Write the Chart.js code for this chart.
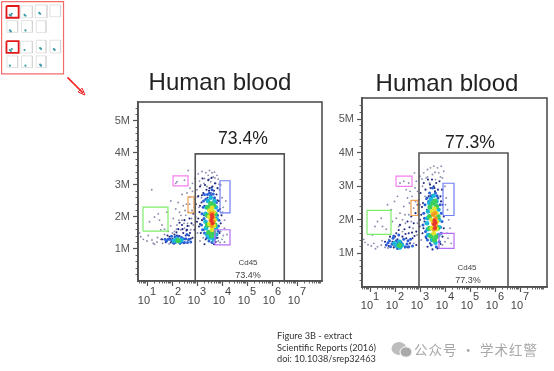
<!DOCTYPE html>
<html><head><meta charset="utf-8">
<script src="https://cdn.jsdelivr.net/npm/chart.js@4"></script>
<style>
html,body{margin:0;padding:0;background:#fff;width:554px;height:371px;overflow:hidden}
canvas{position:absolute;filter:blur(.55px)}
#c0{left:0;top:0;filter:blur(.7px)}
#c1{left:100px;top:60px}
#c2{left:335px;top:60px}
#cite{position:absolute;left:277px;top:330px;font:9.2px/11.6px Lato,sans-serif;color:#333;filter:blur(.3px);white-space:nowrap}
#mark{position:absolute;left:414px;top:340px;font:13.5px/18px "Noto Sans CJK SC",sans-serif;color:#a8a8a8;letter-spacing:1px;white-space:nowrap;filter:blur(.3px)}
#icon{position:absolute;left:391px;top:341px;filter:blur(.4px)}
</style></head><body>
<canvas id="c0" width="90" height="100"></canvas>
<canvas id="c1" width="240" height="260"></canvas>
<canvas id="c2" width="224" height="260"></canvas>
<div id="cite">Figure 3B - extract<br>Scientific Reports (2016)<br>doi: 10.1038/srep32463</div>
<svg id="icon" width="22" height="18"><ellipse cx="8" cy="7.5" rx="7.5" ry="6.5" fill="#bdbdbd"/><ellipse cx="15" cy="11" rx="6" ry="5.2" fill="#a9a9a9" stroke="#fff"/></svg>
<div id="mark">公众号 · 学术红警</div>
<script>
const titleText = "Human blood";
const decades = [1,2,3,4,5,6,7];
const decadeStarts = [0,1,2,3,4,5,6,7];
const minorOffsets = [0.3,0.48,0.6,0.7,0.78,0.85,0.9,0.95];
const yMajor = [1,2,3,4,5];
const yMinor = [0.2,0.4,0.6,0.8,1.2,1.4,1.6,1.8,2.2,2.4,2.6,2.8,3.2,3.4,3.6,3.8,4.2,4.4,4.6,4.8,5.2,5.4];

// ---- Panel 1 ----
const p1Range = {xMin:0.64,xMax:8.0,yMax:5.59};
const p1Gate = [[2.93,0],[2.93,3.97],[6.49,3.97],[6.49,0]];
const p1GreenBox = [[0.84,1.56],[0.84,2.31],[1.84,2.31],[1.84,1.56],[0.84,1.56]];
const p1MagentaBox = [[2.04,2.97],[2.04,3.28],[2.64,3.28],[2.64,2.97],[2.04,2.97]];
const p1OrangeBox = [[2.64,2.13],[2.64,2.63],[2.88,2.63],[2.88,2.13],[2.64,2.13]];
const p1BlueBox = [[3.92,2.13],[3.92,3.13],[4.32,3.13],[4.32,2.13],[3.92,2.13]];
const p1PurpleBox = [[3.72,1.13],[3.72,1.6],[4.32,1.6],[4.32,1.13],[3.72,1.13]];
const p1Labels = [["73.4%",4.84,4.44,17.6,"#222"],["Cd45",5.04,0.56,8,"#444"],["73.4%",5.04,0.16,9,"#444"]];
const p1Gray = [[1.19,2.85],[1.3,2.0],[1.5,1.9],[1.6,1.75],[1.45,2.1],[1.7,1.62],[1.1,1.85],[1.55,1.6],[2.2,3.1],[2.5,3.15],[2.15,3.05],[0.7,1.5],[0.75,1.38],[0.85,1.3],[1.0,1.25],[1.05,1.42],[1.2,1.28],[1.25,1.18],[1.4,1.22],[1.55,1.3],[1.7,1.45],[1.75,1.2],[1.85,1.55],[1.95,1.72],[2.05,1.95],[2.1,1.55],[2.2,1.75],[2.3,2.15],[2.35,1.6],[2.4,1.9],[2.45,2.35],[2.5,1.65],[2.55,2.05],[2.6,2.75],[2.62,1.8],[2.7,2.4],[2.72,2.9],[2.75,1.6],[2.8,2.2],[2.82,3.05],[2.85,1.75],[2.9,2.55],[2.92,3.2],[2.95,2.0],[3.0,2.85],[3.02,1.5],[3.05,3.35],[3.08,2.3],[3.12,1.25],[3.15,3.0],[3.18,2.6],[3.2,3.42],[3.25,1.35],[3.3,3.2],[3.35,3.38],[3.4,2.95],[3.45,3.3],[3.5,3.45],[3.55,3.1],[3.6,3.38],[3.65,3.25],[3.7,3.4],[3.75,3.05],[3.8,3.3],[3.85,3.18],[3.9,2.85],[3.95,3.0],[4.0,2.6],[4.05,2.3],[4.1,1.9],[4.15,2.5],[4.2,1.45],[4.0,1.3],[3.95,1.55],[4.1,1.22],[3.85,1.25],[2.25,2.45],[2.15,2.25],[1.95,2.5],[2.65,3.45],[2.4,2.7],[1.8,2.15],[2.58,2.4],[2.66,2.15],[2.48,1.8],[2.72,2.62],[2.82,2.8],[2.9,2.3],[2.78,1.95],[2.52,2.2],[2.36,2.05],[2.28,1.9],[2.18,1.62],[2.02,1.5],[2.68,1.72],[3.02,2.62],[3.1,3.12],[3.28,3.05],[3.48,3.18],[3.72,3.22],[3.88,3.02],[4.02,2.15],[4.1,1.65],[4.05,1.42],[3.92,1.2],[1.42,1.36],[1.3,1.15],[1.62,1.18],[1.88,1.16]];
const p1Navy = [[1.6,1.3],[1.75,1.22],[1.9,1.38],[1.95,1.2],[2.1,1.45],[2.25,1.62],[2.3,1.4],[2.4,1.75],[2.45,1.5],[2.5,1.9],[2.55,1.42],[2.6,1.6],[2.65,1.28],[2.7,1.95],[2.72,1.5],[2.78,1.8],[2.82,1.35],[2.85,2.1],[2.9,1.6],[2.95,2.4],[3.0,1.85],[3.05,2.65],[3.08,1.7],[3.1,2.15],[3.12,2.95],[3.15,1.5],[3.18,2.45],[3.2,1.9],[3.22,3.2],[3.25,2.75],[3.28,1.6],[3.3,2.35],[3.32,3.0],[3.35,1.3],[3.38,2.85],[3.42,2.6],[3.45,3.15],[3.5,2.9],[3.55,2.75],[3.58,3.22],[3.62,2.95],[3.68,2.82],[3.72,3.05],[3.78,2.7],[3.82,2.9],[3.88,2.5],[3.92,2.25],[3.95,1.8],[3.98,2.05],[3.9,1.5],[3.82,1.35],[3.75,1.22],[3.68,1.15],[3.3,1.15],[1.82,1.42],[2.02,1.32],[2.18,1.52],[2.35,1.3],[2.48,1.18],[2.58,1.58],[2.68,1.42],[2.42,1.62],[2.3,1.82],[2.75,1.32],[2.62,1.72],[2.52,1.3],[2.2,1.42],[2.05,1.18],[3.12,2.35],[3.2,2.68],[3.05,1.95],[3.12,1.78],[3.28,2.05],[3.48,2.82],[3.58,2.92],[3.82,2.52]];
const p1Blue = [[1.72,1.3],[1.85,1.3],[2.0,1.25],[2.4,1.22],[2.55,1.32],[2.62,1.2],[2.45,1.32],[2.6,1.45],[2.75,1.22],[3.18,1.75],[3.2,2.1],[3.25,2.3],[3.28,1.95],[3.3,1.5],[3.35,2.55],[3.4,1.35],[3.42,2.7],[3.5,2.75],[3.6,2.85],[3.7,2.6],[3.78,2.45],[3.85,2.2],[3.88,1.9],[3.85,1.55],[3.75,1.35],[3.6,1.2],[3.48,1.25],[1.78,1.25],[1.92,1.3],[2.12,1.38],[2.25,1.4],[2.38,1.36],[2.32,1.18],[2.08,1.18],[1.98,1.4],[2.15,1.22],[2.5,1.2],[2.68,1.3],[3.22,1.6],[3.26,2.5],[3.3,2.7],[3.55,2.68],[3.65,2.72],[3.82,2.05],[3.86,1.72],[3.8,1.45]];
const p1Cyan = [[2.08,1.26],[2.2,1.3],[2.3,1.24],[2.38,1.28],[3.38,2.3],[3.44,2.5],[3.55,2.6],[3.7,2.5],[3.76,2.3],[3.34,1.85],[3.4,1.45],[3.74,1.45],[3.66,1.3],[3.5,1.35],[3.34,2.1],[3.36,1.65],[3.78,1.95],[3.76,1.65]];
const p1Green = [[2.24,1.26],[3.44,2.3],[3.55,2.42],[3.66,2.36],[3.72,2.1],[3.42,2.05],[3.42,1.75],[3.72,1.75],[3.47,1.52],[3.66,1.52],[3.58,1.42]];
const p1Yellow = [[3.5,2.2],[3.66,2.15],[3.49,2.0],[3.7,1.9],[3.5,1.78],[3.68,1.72],[3.6,1.6],[3.6,2.28]];
const p1Orange = [[3.55,2.1],[3.65,2.0],[3.55,1.9],[3.66,1.85],[3.58,1.72],[3.62,2.12]];
const p1Red = [[3.6,1.98],[3.58,1.88],[3.62,1.8],[3.6,2.06]];

// ---- Panel 2 ----
const p2Range = {xMin:0.68,xMax:8.08,yMax:5.63};
const p2Gate = [[2.96,0],[2.96,3.99],[6.52,3.99],[6.52,0]];
const p2GreenBox = [[0.88,1.57],[0.88,2.28],[1.84,2.28],[1.84,1.57],[0.88,1.57]];
const p2MagentaBox = [[2.04,3.0],[2.04,3.3],[2.68,3.3],[2.68,3.0],[2.04,3.0]];
const p2OrangeBox = [[2.64,2.13],[2.64,2.58],[2.92,2.58],[2.92,2.13],[2.64,2.13]];
const p2BlueBox = [[3.92,2.13],[3.92,3.09],[4.36,3.09],[4.36,2.13],[3.92,2.13]];
const p2PurpleBox = [[3.76,1.15],[3.76,1.6],[4.36,1.6],[4.36,1.15],[3.76,1.15]];
const p2Labels = [["77.3%",5.0,4.28,17.6,"#222"],["Cd45",4.88,0.58,8,"#444"],["77.3%",4.92,0.2,9,"#444"]];
const p2Gray = [[0.75,1.42],[0.8,1.33],[0.92,1.26],[1.05,1.22],[1.15,1.3],[1.3,1.2],[1.45,1.25],[1.6,1.18],[1.1,1.55],[1.3,1.95],[1.45,2.05],[1.5,1.8],[1.65,1.72],[1.2,1.8],[1.7,2.45],[1.85,2.3],[1.98,2.55],[2.05,2.05],[2.15,1.8],[2.2,2.2],[2.3,1.65],[2.35,2.4],[2.42,1.9],[2.5,2.65],[2.55,2.15],[2.2,3.1],[2.35,3.15],[2.55,3.1],[2.6,2.85],[2.72,1.75],[2.75,2.35],[2.8,2.95],[2.85,3.15],[2.88,1.55],[2.95,2.6],[3.0,3.3],[3.05,1.4],[3.1,3.0],[3.15,3.4],[3.2,2.7],[3.25,3.25],[3.3,3.5],[3.38,3.1],[3.42,3.55],[3.5,3.35],[3.55,3.6],[3.62,3.2],[3.7,3.55],[3.75,3.4],[3.85,3.6],[3.9,3.25],[3.95,3.45],[4.0,3.0],[4.05,2.65],[4.1,2.3],[4.15,2.0],[4.2,1.75],[4.0,1.35],[4.12,1.45],[4.25,1.3],[3.9,1.25],[2.1,2.7],[1.9,1.95],[2.65,1.95],[2.45,2.9],[2.78,3.4],[1.75,1.42],[1.9,1.25],[2.75,1.3],[2.9,1.9],[2.58,2.5],[2.68,2.7],[2.4,2.15],[2.3,2.0],[2.82,2.55],[2.9,2.85],[3.0,2.45],[3.08,3.22],[3.3,3.28],[3.6,3.42],[3.82,3.28],[4.02,2.45],[4.08,1.6],[1.48,1.38],[1.22,1.14],[1.72,1.16]];
const p2Navy = [[1.6,1.35],[1.75,1.22],[1.8,1.5],[1.9,1.35],[1.95,1.18],[2.05,1.6],[2.1,1.42],[2.2,1.85],[2.3,1.5],[2.38,1.72],[2.45,1.45],[2.5,1.95],[2.55,1.6],[2.6,1.3],[2.65,2.1],[2.7,1.45],[2.75,1.9],[2.82,2.2],[2.85,1.65],[2.9,2.45],[2.98,1.8],[3.02,2.8],[3.05,2.15],[3.1,1.6],[3.12,2.5],[3.15,3.1],[3.18,1.95],[3.22,2.9],[3.25,1.45],[3.28,2.3],[3.32,3.2],[3.35,2.7],[3.4,1.3],[3.42,2.95],[3.48,3.2],[3.55,3.0],[3.6,2.85],[3.65,3.1],[3.72,2.9],[3.78,3.15],[3.82,2.7],[3.88,2.9],[3.9,2.45],[3.95,2.1],[3.95,1.75],[3.9,1.5],[3.82,1.28],[3.7,1.15],[3.5,1.12],[3.3,1.2],[2.85,1.25],[2.0,1.5],[2.15,1.7],[2.25,1.35],[2.42,1.58],[2.58,1.78],[2.68,1.62],[2.78,1.52],[2.52,1.18],[2.4,1.18],[3.08,2.38],[3.14,1.75],[3.0,2.0],[3.25,2.62],[3.4,3.05],[3.58,2.95],[3.84,2.55]];
const p2Blue = [[1.65,1.25],[1.78,1.38],[1.82,1.2],[1.92,1.45],[2.0,1.25],[2.05,1.38],[2.15,1.55],[2.25,1.3],[2.35,1.42],[2.48,1.28],[2.55,1.2],[2.62,1.42],[2.7,1.22],[3.12,1.85],[3.15,2.2],[3.2,2.45],[3.22,1.65],[3.28,2.65],[3.3,1.4],[3.38,2.8],[3.45,1.25],[3.5,2.95],[3.62,2.8],[3.72,2.65],[3.8,2.45],[3.85,2.2],[3.88,1.95],[3.85,1.6],[3.78,1.35],[3.65,1.2],[1.72,1.32],[1.88,1.28],[1.95,1.52],[2.1,1.15],[2.42,1.2],[2.52,1.38],[2.12,1.32],[2.3,1.28],[3.18,2.05],[3.24,1.5],[3.34,2.55],[3.44,2.72],[3.68,2.72],[3.82,1.78]];
const p2Cyan = [[1.98,1.3],[2.08,1.22],[2.18,1.35],[2.28,1.24],[2.2,1.18],[3.32,2.25],[3.37,2.5],[3.44,2.62],[3.55,2.72],[3.66,2.55],[3.74,2.3],[3.28,1.9],[3.33,1.55],[3.74,1.55],[3.62,1.32],[3.48,1.4],[3.3,2.05],[3.31,1.72],[3.76,2.0],[3.76,1.78]];
const p2Green = [[2.18,1.24],[3.4,2.38],[3.52,2.5],[3.66,2.4],[3.72,2.1],[3.38,2.1],[3.38,1.75],[3.7,1.75],[3.44,1.52],[3.64,1.5],[3.58,1.4],[3.6,2.56]];
const p2Yellow = [[3.48,2.25],[3.65,2.2],[3.46,2.0],[3.68,1.95],[3.47,1.75],[3.66,1.72],[3.55,1.6],[3.58,2.33]];
const p2Orange = [[3.52,2.15],[3.62,2.05],[3.53,1.9],[3.64,1.85],[3.56,1.72],[3.6,2.2]];
const p2Red = [[3.58,1.98],[3.56,1.86],[3.6,1.76],[3.62,1.92]];

// ---- Overview thumbnail and arrow ----
const thumbBorder = [[0.5,0.5],[64,0.5],[64,74.5],[0.5,74.5],[0.5,0.5]];
const thumbFrames = [[20,5,32,17],[35,4,47,17],[50,4,61,16],[6,20,17,32],[21,20,32,32],[36,20,46,32],[20,41,32,53],[36,40,46,53],[50,40,61,53],[6,56,17,68],[21,56,32,68],[36,56,46,68]];
const thumbHighlights = [[5.5,5,18,17],[5.5,41,18,53]];
const thumbBlobs = [[9,14],[10,15],[11,13],[24,14],[25,15],[39,12],[40,13],[9,30],[10,31],[25,30],[9,50],[10,51],[11,49],[24,50],[40,48],[41,49],[54,49],[55,50],[9,66],[25,66],[40,65],[41,66]];
const arrowLine = [[68,78],[84,94]];
const arrowHead = [[86,96],[79,93],[83,89],[86,96]];

const toPts = a => a.map(p => ({x:p[0],y:p[1]}));
const lineSet = (arr,color,width) => ({type:'line',data:toPts(arr),borderColor:color,borderWidth:width,pointRadius:0,fill:false,tension:0,clip:false});
const dotSet = (arr,color,r) => ({type:'scatter',data:toPts(arr),backgroundColor:color,borderColor:color,borderWidth:0,pointRadius:r,pointHoverRadius:r});

const frameAndLabels = {
  id:'frameAndLabels',
  afterDatasetsDraw(chart,args,opts){
    const {ctx,chartArea:a,scales:{x,y}} = chart;
    ctx.save();
    ctx.strokeStyle='#505050';ctx.lineWidth=1.6;
    ctx.strokeRect(a.left,a.top,a.right-a.left,a.bottom-a.top);
    ctx.textAlign='center';ctx.textBaseline='middle';
    opts.items.forEach(t=>{
      ctx.font=t[3]+'px "Liberation Sans",Arial,sans-serif';
      ctx.fillStyle=t[4];
      ctx.fillText(t[0],x.getPixelForValue(t[1]),y.getPixelForValue(t[2]));
    });
    ctx.restore();
  }
};

function panel(id,cfg){
  const minor=[];
  decadeStarts.forEach(d=>minorOffsets.forEach(m=>{const v=d+m;if(v>cfg.range.xMin&&v<cfg.range.xMax)minor.push(v);}));
  const fonts='"Liberation Sans",Arial,sans-serif';
  new Chart(document.getElementById(id),{
    data:{datasets:[
      lineSet(cfg.gate,'#555',1.6),
      lineSet(cfg.green,'#7dee6a',1.2),lineSet(cfg.magenta,'#f57df0',1.2),lineSet(cfg.orange,'#f0a050',1.2),
      lineSet(cfg.blue,'#6f7ff5',1.2),lineSet(cfg.purple,'#b56cf5',1.2),
      dotSet(cfg.red,'#e8342a',2),dotSet(cfg.orangeDots,'#f59a1f',2.2),dotSet(cfg.yellow,'#e3e32e',2.4),
      dotSet(cfg.greenDots,'#3ccf5a',2.6),dotSet(cfg.cyan,'#1ab8d8',2.3),dotSet(cfg.blueDots,'#2a5fd6',1.5),
      dotSet(cfg.navy,'#1f2a80',1.05),dotSet(cfg.gray,'#8c8cb0',.95)
    ]},
    options:{
      responsive:false,animation:false,
      layout:{padding:0},
      plugins:{
        legend:{display:false},tooltip:{enabled:false},
        title:{display:true,text:titleText,color:'#222',font:{family:fonts,size:24,weight:'normal',lineHeight:1},padding:{top:cfg.titleTop,bottom:cfg.titleBottom}},
        frameAndLabels:{items:cfg.labels}
      },
      scales:{
        x:{type:'linear',position:'bottom',min:cfg.range.xMin,max:cfg.range.xMax,weight:2,
           grid:{display:true,drawOnChartArea:false,tickLength:5,tickColor:'#555',tickWidth:1.2},border:{color:'#505050',width:1.6},
           ticks:{autoSkip:false,maxRotation:0,padding:cfg.xPad,color:'#444',font:{family:fonts,size:11,lineHeight:.78},
             callback:v=>['    '+v,'10  ']},
           afterBuildTicks:s=>{s.ticks=decades.map(v=>({value:v}));},
           afterFit:s=>{s.height=cfg.xHeight;}},
        x2:{type:'linear',position:'bottom',min:cfg.range.xMin,max:cfg.range.xMax,weight:1,
           grid:{display:true,drawOnChartArea:false,tickLength:2.5,tickColor:'#666',tickWidth:1},border:{display:false},
           ticks:{display:false,autoSkip:false},
           afterBuildTicks:s=>{s.ticks=minor.map(v=>({value:v}));},
           afterFit:s=>{s.height=0;}},
        y:{type:'linear',position:'left',min:0,max:cfg.range.yMax,weight:2,
           grid:{display:true,drawOnChartArea:false,tickLength:5,tickColor:'#555',tickWidth:1.2},border:{color:'#505050',width:1.6},
           ticks:{autoSkip:false,padding:3,color:'#555',font:{family:fonts,size:11},callback:v=>v+'M'},
           afterBuildTicks:s=>{s.ticks=yMajor.map(v=>({value:v}));},
           afterFit:s=>{s.width=cfg.yWidth;}},
        y2:{type:'linear',position:'left',min:0,max:cfg.range.yMax,weight:1,
           grid:{display:true,drawOnChartArea:false,tickLength:2.5,tickColor:'#666',tickWidth:1},border:{display:false},
           ticks:{display:false,autoSkip:false},
           afterBuildTicks:s=>{s.ticks=yMinor.map(v=>({value:v}));},
           afterFit:s=>{s.width=0;}},
        yRightGap:{type:'linear',position:'right',min:0,max:cfg.range.yMax,
           grid:{display:false},border:{display:false},ticks:{display:false},
           afterFit:s=>{s.width=cfg.rightGap;}}
      }
    },
    plugins:[frameAndLabels]
  });
}

panel('c1',{range:p1Range,gate:p1Gate,green:p1GreenBox,magenta:p1MagentaBox,orange:p1OrangeBox,blue:p1BlueBox,purple:p1PurpleBox,
  labels:p1Labels,gray:p1Gray,navy:p1Navy,blueDots:p1Blue,cyan:p1Cyan,greenDots:p1Green,yellow:p1Yellow,orangeDots:p1Orange,red:p1Red,
  titleTop:11,titleBottom:7,yWidth:38,rightGap:18,xHeight:39,xPad:2});
panel('c2',{range:p2Range,gate:p2Gate,green:p2GreenBox,magenta:p2MagentaBox,orange:p2OrangeBox,blue:p2BlueBox,purple:p2PurpleBox,
  labels:p2Labels,gray:p2Gray,navy:p2Navy,blueDots:p2Blue,cyan:p2Cyan,greenDots:p2Green,yellow:p2Yellow,orangeDots:p2Orange,red:p2Red,
  titleTop:12,titleBottom:2,yWidth:27,rightGap:12,xHeight:33,xPad:1});

// overview
const frameLine=[];thumbFrames.forEach(f=>{frameLine.push([f[0],f[1]],[f[2],f[1]],[f[2],f[3]],[f[0],f[3]],[f[0],f[1]],[null,null]);});
const hiLine=[];thumbHighlights.forEach(f=>{hiLine.push([f[0],f[1]],[f[2],f[1]],[f[2],f[3]],[f[0],f[3]],[f[0],f[1]],[null,null]);});
new Chart(document.getElementById('c0'),{
  data:{datasets:[
    {...lineSet(arrowHead,'#e22',1),fill:true,backgroundColor:'#e22'},
    lineSet(arrowLine,'#e22',1.6),
    lineSet(hiLine,'#e01818',1.8),
    dotSet(thumbBlobs,'#3a9aa8',1.1),
    lineSet(frameLine,'#cfcfcf',.6),
    lineSet(thumbBorder,'#f26a6a',1.2)
  ]},
  options:{responsive:false,animation:false,layout:{padding:0},
    plugins:{legend:{display:false},tooltip:{enabled:false},title:{display:false}},
    scales:{x:{type:'linear',display:false,min:0,max:90},y:{type:'linear',display:false,min:0,max:100,reverse:true}}}
});
</script>
</body></html>
